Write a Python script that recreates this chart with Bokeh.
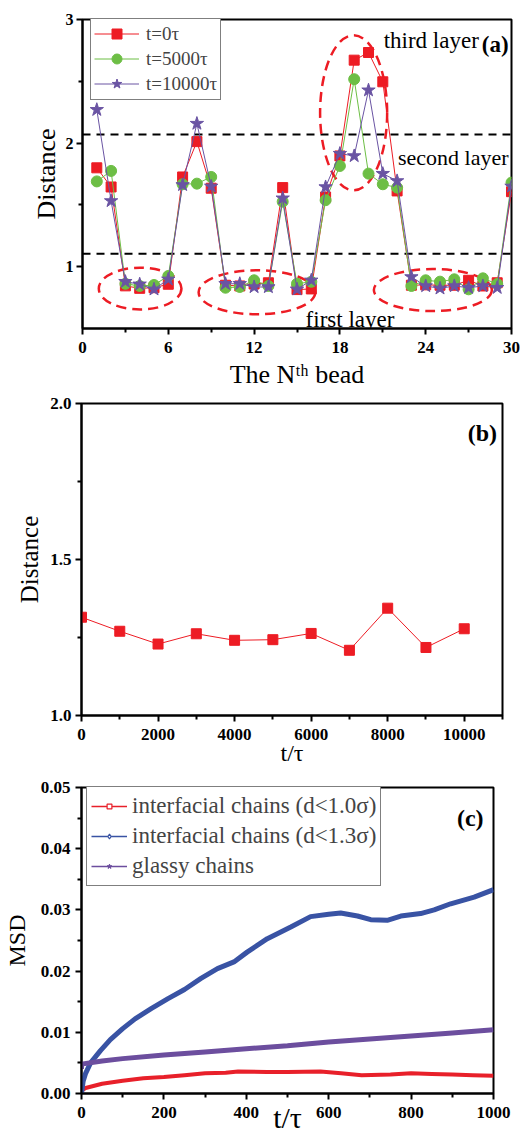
import numpy as np
from bokeh.plotting import figure
from bokeh.models import (Span, Label, Legend, LegendItem, FixedTicker,
                          PrintfTickFormatter, Range1d)
from bokeh.embed import file_html
from bokeh.resources import INLINE

FONT = "Liberation Serif"
RED = "#ED1C24"
GREEN = "#6DBE45"
PURPLE = "#6A54A3"
BLUE_C = "#3953A4"
PURPLE_C = "#6C4E9E"
RED_C = "#E8202A"

# ---------------- Panel (a) data ----------------
bead = list(range(1, 31))
dist_t0 = [1.80, 1.645, 0.845, 0.825, 0.83, 0.858, 1.726, 2.012, 1.635, 0.85,
           0.844, 0.86, 0.87, 1.64, 0.815, 0.82, 1.564, 1.896, 2.671, 2.733,
           2.496, 1.613, 0.85, 0.853, 0.85, 0.85, 0.89, 0.844, 0.87, 1.607]
dist_t5000 = [1.69, 1.775, 0.862, 0.844, 0.852, 0.925, 1.667, 1.672, 1.726, 0.83,
              0.836, 0.89, 0.844, 1.526, 0.862, 0.878, 1.538, 1.815, 2.517, 1.753,
              1.667, 1.64, 0.844, 0.89, 0.879, 0.898, 0.817, 0.906, 0.86, 1.68]
dist_t10000 = [2.27, 1.532, 0.879, 0.858, 0.817, 0.898, 1.662, 2.158, 1.65, 0.862,
               0.862, 0.836, 0.836, 1.554, 0.817, 0.89, 1.645, 1.915, 1.896, 2.428,
               1.753, 1.694, 0.917, 0.844, 0.825, 0.844, 0.83, 0.844, 0.83, 1.65]
legend_a = ["t=0\u03c4", "t=5000\u03c4", "t=10000\u03c4"]
layer_lines = [2.07, 1.105]
# annotation ellipses (centre x, centre y, width, height) in data units
ell_x = [18.96, 4.03, 12.2, 24.5]
ell_y = [2.245, 0.823, 0.793, 0.811]
ell_w = [4.69, 5.78, 8.16, 8.25]
ell_h = [1.255, 0.338, 0.356, 0.34]

# ---------------- Panel (b) data ----------------
time_b = [0, 1000, 2000, 3000, 4000, 5000, 6000, 7000, 8000, 9000, 10000]
dist_b = [1.315, 1.270, 1.229, 1.262, 1.241, 1.243, 1.263, 1.209, 1.344, 1.218, 1.278]

# ---------------- Panel (c) data ----------------
t_blue = [0, 4, 10, 22, 46, 70, 100, 130, 170, 210, 250, 290, 330, 370, 402, 451,
          508, 556, 600, 629, 670, 702, 742, 775, 823, 856, 896, 953, 1000]
msd_blue = [0.0, 0.0020, 0.0033, 0.0050, 0.0070, 0.0088, 0.0106, 0.0122, 0.0139,
            0.0155, 0.0170, 0.0188, 0.0204, 0.0215, 0.0231, 0.0253, 0.0272, 0.0289,
            0.0293, 0.0295, 0.0290, 0.0284, 0.0283, 0.0290, 0.0294, 0.0300, 0.0310,
            0.0321, 0.0333]
t_purple = [0, 0, 50, 100, 200, 300, 400, 500, 600, 700, 800, 900, 1000]
msd_purple = [0.0040, 0.0048, 0.0053, 0.0057, 0.0063, 0.0068, 0.0073, 0.0078,
              0.0084, 0.0089, 0.0094, 0.0099, 0.0104]
t_red = [0, 10, 50, 100, 150, 200, 250, 300, 350, 380, 450, 500, 580, 630, 680,
         750, 800, 850, 900, 950, 1000]
msd_red = [0.0005, 0.0009, 0.0016, 0.0021, 0.0025, 0.0027, 0.0030, 0.0033, 0.0034,
           0.0036, 0.0035, 0.0035, 0.0036, 0.0033, 0.0030, 0.0031, 0.0033, 0.0032,
           0.0031, 0.0030, 0.0029]
legend_c = ["interfacial chains (d<1.0\u03c3)", "interfacial chains (d<1.3\u03c3)", "glassy chains"]


def make_fig(fw, fh, xr, yr, left, right, top, bottom):
    p = figure(frame_width=fw, frame_height=fh, x_range=Range1d(*xr), y_range=Range1d(*yr),
               output_backend="svg", toolbar_location=None,
               min_border_left=left, min_border_right=right,
               min_border_top=top, min_border_bottom=bottom)
    p.xgrid.visible = False
    p.ygrid.visible = False
    p.outline_line_color = "black"
    p.outline_line_width = 2
    p.outline_line_alpha = 1
    p.background_fill_color = "white"
    p.border_fill_color = "white"
    for ax in (p.xaxis[0], p.yaxis[0]):
        ax.axis_line_width = 2
        ax.axis_line_color = "black"
        ax.major_tick_line_width = 2
        ax.minor_tick_line_width = 2
        ax.major_tick_out = 6
        ax.major_tick_in = 0
        ax.minor_tick_out = 4
        ax.minor_tick_in = 0
        ax.major_label_text_font = FONT
        ax.major_label_text_font_style = "bold"
        ax.major_label_text_font_size = "17px"
        ax.major_label_text_color = "black"
        ax.axis_label_text_font = FONT
        ax.axis_label_text_font_style = "normal"
        ax.axis_label_text_color = "black"
    return p


def txt(p, x, y, s, size, bold=False, align="left", baseline="alphabetic"):
    p.add_layout(Label(x=x, y=y, text=s, text_font=FONT, text_font_size=f"{size}px",
                       text_font_style="bold" if bold else "normal",
                       text_align=align, text_baseline=baseline, text_color="black"))


# ================= Panel (a) =================
pa = make_fig(429, 309, (0, 30), (0.5, 3.0), 82, 16, 19, 80)
pa.xaxis.ticker = FixedTicker(ticks=[0, 6, 12, 18, 24, 30], minor_ticks=[3, 9, 15, 21, 27])
pa.yaxis.ticker = FixedTicker(ticks=[1, 2, 3], minor_ticks=[1.5, 2.5])
pa.yaxis.major_label_text_font_size = "16px"
pa.yaxis.axis_label = "Distance"
pa.yaxis.axis_label_text_font_size = "26px"
pa.yaxis.axis_label_standoff = 2
pa.yaxis.major_label_standoff = 3
pa.xaxis.major_label_standoff = 7
pa.xaxis.axis_label = "The N\u1d57\u02b0 bead"
pa.xaxis.axis_label_text_font_size = "26px"
pa.xaxis.axis_label_standoff = 4

for yv in layer_lines:
    pa.add_layout(Span(location=yv, dimension="width", line_color="black",
                       line_width=2, line_dash="8 6", level="underlay"))

pa.ellipse(x=ell_x, y=ell_y, width=ell_w, height=ell_h, fill_color=None,
           line_color=RED, line_width=2.5, line_dash="10 6")

l0 = pa.line(bead, dist_t0, line_color=RED, line_width=1)
s0 = pa.scatter(bead, dist_t0, marker="square", size=10, fill_color=RED, line_color=RED)
l1 = pa.line(bead, dist_t5000, line_color=GREEN, line_width=1)
s1 = pa.scatter(bead, dist_t5000, marker="circle", size=11, fill_color=GREEN, line_color=GREEN)
l2 = pa.line(bead, dist_t10000, line_color=PURPLE, line_width=1)
s2 = pa.scatter(bead, dist_t10000, marker="star", size=14, fill_color=PURPLE, line_color=PURPLE)

leg_a = Legend(items=[LegendItem(label=legend_a[0], renderers=[l0, s0]),
                      LegendItem(label=legend_a[1], renderers=[l1, s1]),
                      LegendItem(label=legend_a[2], renderers=[l2, s2])],
               location=(8, 228), border_line_color="black", border_line_width=1,
               background_fill_color="white", background_fill_alpha=1,
               label_text_font=FONT, label_text_font_size="19px",
               glyph_width=45, glyph_height=25, label_height=25,
               label_standoff=7, padding=3, spacing=0, margin=0)
pa.add_layout(leg_a)

txt(pa, 21.06, 2.83, "third layer", 23)
txt(pa, 29.8, 2.795, "(a)", 23, bold=True, align="right")
txt(pa, 22.06, 1.883, "second layer", 22)
txt(pa, 15.6, 0.576, "first layer", 23)

# ================= Panel (b) =================
pb = make_fig(421, 312, (0, 11000), (1.0, 2.0), 81, 25, 14, 80)
pb.margin = (-19, 0, 0, 0)
pb.xaxis.ticker = FixedTicker(ticks=[0, 2000, 4000, 6000, 8000, 10000],
                              minor_ticks=[1000, 3000, 5000, 7000, 9000, 11000])
pb.yaxis.ticker = FixedTicker(ticks=[1.0, 1.5, 2.0], minor_ticks=[1.25, 1.75])
pb.xaxis.formatter = PrintfTickFormatter(format="%d")
pb.yaxis.formatter = PrintfTickFormatter(format="%.1f")
pb.yaxis.axis_label = "Distance"
pb.yaxis.axis_label_text_font_size = "25px"
pb.yaxis.axis_label_standoff = 4
pb.yaxis.major_label_standoff = 4
pb.xaxis.major_label_standoff = 7
pb.xaxis.axis_label = "t/\u03c4"
pb.xaxis.axis_label_text_font_size = "24px"
pb.xaxis.axis_label_standoff = -3

pb.line(time_b, dist_b, line_color=RED, line_width=1)
pb.scatter(time_b, dist_b, marker="square", size=10, fill_color=RED, line_color=RED)
txt(pb, 10856, 1.907, "(b)", 24, bold=True, align="right")

# ================= Panel (c) =================
pc = make_fig(412, 306, (0, 1000), (0.0, 0.05), 81, 34, 14, 50)
pc.margin = (-22, 0, 0, 0)
pc.xaxis.ticker = FixedTicker(ticks=[0, 200, 400, 600, 800, 1000],
                              minor_ticks=[100, 300, 500, 700, 900])
pc.yaxis.ticker = FixedTicker(ticks=[0.0, 0.01, 0.02, 0.03, 0.04, 0.05],
                              minor_ticks=[0.005, 0.015, 0.025, 0.035, 0.045])
pc.xaxis.formatter = PrintfTickFormatter(format="%d")
pc.yaxis.formatter = PrintfTickFormatter(format="%.2f")
pc.yaxis.axis_label = "MSD"
pc.yaxis.axis_label_text_font_size = "24px"
pc.yaxis.axis_label_standoff = 8
pc.yaxis.major_label_standoff = 5
pc.xaxis.major_label_standoff = 7
pc.xaxis.axis_label = "t/\u03c4"
pc.xaxis.axis_label_text_font_size = "30px"
pc.xaxis.axis_label_standoff = -20

pc.line(t_red, msd_red, line_color=RED_C, line_width=4)
pc.line(t_blue, msd_blue, line_color=BLUE_C, line_width=5)
pc.line(t_purple, msd_purple, line_color=PURPLE_C, line_width=5)

# legend proxies (thin line + small marker, as in the original legend)
nan = [np.nan]
rl = pc.line(nan, nan, line_color=RED_C, line_width=1.5)
rs = pc.scatter(nan, nan, marker="square", size=5, fill_color="white", line_color=RED_C, line_width=1.2)
bl = pc.line(nan, nan, line_color=BLUE_C, line_width=1.5)
bs = pc.scatter(nan, nan, marker="diamond", size=5, fill_color="white", line_color=BLUE_C, line_width=1.2)
gl = pc.line(nan, nan, line_color=PURPLE_C, line_width=1.5)
gs = pc.scatter(nan, nan, marker="star", size=5, fill_color=PURPLE_C, line_color=PURPLE_C)

leg_c = Legend(items=[LegendItem(label=legend_c[0], renderers=[rl, rs]),
                      LegendItem(label=legend_c[1], renderers=[bl, bs]),
                      LegendItem(label=legend_c[2], renderers=[gl, gs])],
               location=(5, 207), border_line_color="black", border_line_width=1,
               background_fill_color="white", background_fill_alpha=1,
               label_text_font=FONT, label_text_font_size="23px",
               glyph_width=36, glyph_height=12, label_height=30,
               label_standoff=5, padding=4, spacing=0, margin=0)
pc.add_layout(leg_c)

txt(pc, 976, 0.045, "(c)", 24, bold=True, align="right")

html = file_html([pa, pb, pc], INLINE, title="distance and MSD")
css = ("<style>html,body{margin:0;padding:0;overflow:hidden;}"
       "body{display:flex;flex-direction:column;align-items:flex-start;}</style>")
html = html.replace("</head>", css + "</head>", 1)
open("out.html", "w").write(html)
